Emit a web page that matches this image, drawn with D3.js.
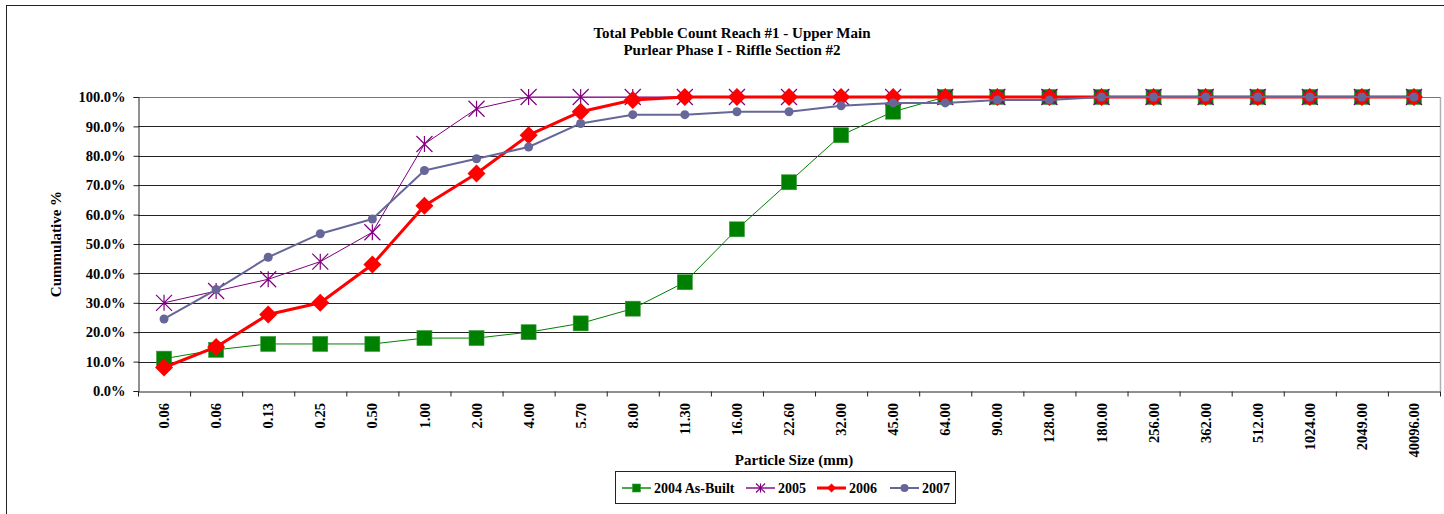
<!DOCTYPE html>
<html><head><meta charset="utf-8">
<script src="https://cdn.jsdelivr.net/npm/d3@7"></script>
<style>
html,body{margin:0;padding:0;background:#fff;}
svg{display:block;}
text{font-family:"Liberation Serif","Times New Roman",serif;font-weight:bold;fill:#000;}
</style></head>
<body>
<svg id="chart" width="1444" height="514"></svg>
<script>
const categories = ["0.06","0.06","0.13","0.25","0.50","1.00","2.00","4.00","5.70","8.00","11.30","16.00","22.60","32.00","45.00","64.00","90.00","128.00","180.00","256.00","362.00","512.00","1024.00","2049.00","40096.00"];
const s2004 = [11,14,16,16,16,18,18,20,23,28,37,55,71,87,95,100,100,100,100,100,100,100,100,100,100];
const s2005 = [30,34,38,44,54,84,96,100,100,100,100,100,100,100,100,100,100,100,100,100,100,100,100,100,100];
const s2006 = [8,15,26,30,43,63,74,87,95,99,100,100,100,100,100,100,100,100,100,100,100,100,100,100,100];
const s2007 = [24.5,34.5,45.5,53.5,58.5,75,79,83,91,94,94,95,95,97,98,98,99,99,100,100,100,100,100,100,100];
const yTicks = [0,10,20,30,40,50,60,70,80,90,100];
const seriesNames = ["2004 As-Built","2005","2006","2007"];

const series = [
  {name:seriesNames[0], values:s2004, color:"#008000", lineColor:"#008000", width:1, marker:"square"},
  {name:seriesNames[1], values:s2005, color:"#800080", lineColor:"#800080", width:1, marker:"star"},
  {name:seriesNames[2], values:s2006, color:"#ff0000", lineColor:"#ff0000", width:3, marker:"diamond"},
  {name:seriesNames[3], values:s2007, color:"#666699", lineColor:"#666699", width:2, marker:"circle"}
];

const svg = d3.select("#chart");
const L = 138, R = 1440, T = 97, B = 391;

// outer chart border
svg.append("rect").attr("x",6.5).attr("y",5.5).attr("width",1500).attr("height",600)
  .attr("fill","none").attr("stroke","#222").attr("stroke-width",1);

const x = d3.scaleBand().domain(d3.range(categories.length)).range([L,R]).padding(0);
const xEdge = d3.scaleLinear().domain([0,categories.length]).range([L,R]);
const y = d3.scaleLinear().domain([0,100]).range([B,T]);

// plot area border (right side light gray)
svg.append("line").attr("x1",R+0.5).attr("x2",R+0.5).attr("y1",T).attr("y2",B)
  .attr("stroke","#b0b0b0").attr("stroke-width",1.5);

// gridlines
svg.append("g").selectAll("line").data(yTicks.filter(d=>d>0)).join("line")
  .attr("x1",L).attr("x2",R)
  .attr("y1",d=>Math.round(y(d))+0.5).attr("y2",d=>Math.round(y(d))+0.5)
  .attr("stroke",d=>d===100?"#777":"#222").attr("stroke-width",1);

// y axis
const yAxis = svg.append("g").attr("transform",`translate(${L+0.5},0)`)
  .call(d3.axisLeft(y).tickValues(yTicks).tickFormat(d=>d.toFixed(1)+"%").tickSize(5).tickPadding(8));
yAxis.select(".domain").attr("stroke","#222");
yAxis.selectAll(".tick line").attr("stroke","#222");
yAxis.selectAll("text").style("font-size","14.5px").attr("fill","#000");

// x axis ticks at boundaries
const xTickAxis = svg.append("g").attr("transform",`translate(0,${B+0.5})`)
  .call(d3.axisBottom(xEdge).tickValues(d3.range(categories.length+1)).tickFormat("").tickSize(5).tickSizeOuter(0));
xTickAxis.select(".domain").attr("stroke","#222");
xTickAxis.selectAll(".tick line").attr("stroke","#222");

// x labels
const xLab = svg.append("g").attr("transform",`translate(0,${B})`)
  .call(d3.axisBottom(x).tickFormat(i=>categories[i]).tickSize(0));
xLab.select(".domain").remove();
xLab.selectAll("text")
  .style("font-size","14.5px")
  .attr("text-anchor","end")
  .attr("transform","rotate(-90)")
  .attr("x",-12).attr("y",0).attr("dy","0.35em");

// lines & markers
const line = d3.line().x((d,i)=>x(i)+x.bandwidth()/2).y(d=>y(d));

function drawMarker(g, type, color, size){
  if(type==="square"){
    g.append("rect").attr("x",-size/2).attr("y",-size/2).attr("width",size).attr("height",size)
      .attr("fill",color).attr("stroke","#3a9a3a").attr("stroke-width",0.6);
  } else if(type==="diamond"){
    const h=size/2;
    g.append("path").attr("d",`M0,${-h}L${h},0L0,${h}L${-h},0Z`).attr("fill",color);
  } else if(type==="circle"){
    g.append("circle").attr("r",size/2).attr("fill",color);
  } else if(type==="star"){
    const h=size/2;
    g.append("path").attr("d",`M${-h},${-h}L${h},${h}M${-h},${h}L${h},${-h}M0,${-h}L0,${h}`)
      .attr("stroke",color).attr("stroke-width",1.2).attr("fill","none");
  }
}

const markerSize = {square:15, star:16, diamond:18, circle:9};

series.forEach(s=>{
  const g = svg.append("g");
  g.append("path").datum(s.values).attr("d",line).attr("fill","none")
    .attr("stroke",s.lineColor).attr("stroke-width",s.width).attr("stroke-linejoin","round");
  s.values.forEach((v,i)=>{
    const mg = g.append("g").attr("transform",`translate(${x(i)+x.bandwidth()/2},${y(v)})`);
    drawMarker(mg, s.marker, s.color, markerSize[s.marker]);
  });
});

// titles
svg.append("text").attr("x",732).attr("y",38).attr("text-anchor","middle").style("font-size","15px")
  .text("Total Pebble Count Reach #1 - Upper Main");
svg.append("text").attr("x",732).attr("y",55).attr("text-anchor","middle").style("font-size","15px")
  .text("Purlear Phase I - Riffle Section #2");
svg.append("text").attr("transform",`translate(61,${(T+B)/2}) rotate(-90)`).attr("text-anchor","middle")
  .style("font-size","15px").text("Cummulative %");
svg.append("text").attr("x",794).attr("y",465).attr("text-anchor","middle").style("font-size","15px")
  .text("Particle Size (mm)");

// legend
const lg = svg.append("g");
lg.append("rect").attr("x",615.5).attr("y",471.5).attr("width",340).attr("height",32)
  .attr("fill","#fff").attr("stroke","#222").attr("stroke-width",1);
const legendX = [622, 746, 817, 890];
const legendMarker = {square:8, star:9, diamond:9, circle:8};
series.forEach((s,k)=>{
  const gx = legendX[k], gy = 488;
  lg.append("line").attr("x1",gx).attr("x2",gx+29).attr("y1",gy).attr("y2",gy)
    .attr("stroke",s.lineColor).attr("stroke-opacity",s.width>=2?1:0.7).attr("stroke-width",Math.max(s.width,2));
  const mg = lg.append("g").attr("transform",`translate(${gx+14.5},${gy})`);
  drawMarker(mg, s.marker, s.color, legendMarker[s.marker]);
  lg.append("text").attr("x",gx+32).attr("y",gy+5).style("font-size","14px").text(s.name);
});
</script>
</body></html>
